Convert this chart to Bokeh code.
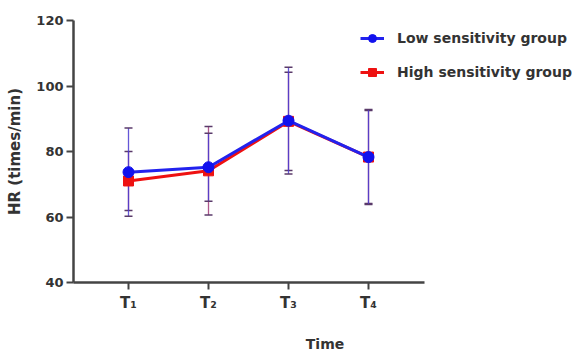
from bokeh.plotting import figure
from bokeh.models import Range1d, FixedTicker, Whisker, TeeHead, ColumnDataSource, Legend, LegendItem
from bokeh.embed import file_html
from bokeh.resources import INLINE

x_pos = [1, 2, 3, 4]
time_labels = ["T\u2081", "T\u2082", "T\u2083", "T\u2084"]
low_mean = [73.7, 75.2, 89.4, 78.3]
low_sd = [13.5, 10.4, 16.3, 14.5]
high_mean = [71.0, 74.1, 89.2, 78.3]
high_sd = [9.0, 13.5, 15.0, 14.2]
y_ticks = [40, 60, 80, 100, 120]

FONT = "DejaVu Sans"
AX = "#444444"

# frame spans the full right side (so the legend is not clipped); the x axis line is bounded
p = figure(width=576, height=354, output_backend="svg", toolbar_location=None,
           x_range=Range1d(0.3125, 0.3125 + 503 / 80), y_range=Range1d(40, 120),
           min_border_left=73, min_border_right=0, min_border_top=20, min_border_bottom=72)
p.outline_line_color = None
p.grid.visible = False
p.background_fill_color = "white"

for ax in (p.xaxis, p.yaxis):
    ax.axis_line_color = AX
    ax.axis_line_width = 2.5
    ax.major_tick_line_color = AX
    ax.major_tick_line_width = 2
    ax.major_tick_in = 0
    ax.minor_tick_line_color = None
    ax.major_label_text_font = FONT
    ax.major_label_text_font_style = "bold"
    ax.major_label_text_color = "#333333"
    ax.major_label_text_font_size = "13px"
    ax.axis_label_text_font = FONT
    ax.axis_label_text_font_style = "bold"
    ax.axis_label_text_color = "#333333"

p.yaxis.ticker = FixedTicker(ticks=y_ticks)
p.yaxis.major_tick_out = 7
p.yaxis.major_label_standoff = 3
p.yaxis.axis_label = "HR (times/min)"
p.yaxis.axis_label_text_font_size = "15px"
p.yaxis.axis_label_standoff = 9

p.xaxis.bounds = (0.3125, 4.7)
p.xaxis.ticker = FixedTicker(ticks=x_pos)
p.xaxis.major_label_overrides = {x: t for x, t in zip(x_pos, time_labels)}
p.xaxis.major_tick_out = 7
p.xaxis.major_label_standoff = 4
p.xaxis.major_label_text_font_size = "15px"
p.xaxis.axis_label = "Time"
p.xaxis.axis_label_text_font_size = "14px"
p.xaxis.axis_label_standoff = 21

src_low = ColumnDataSource(dict(x=x_pos, y=low_mean,
                                up=[m + s for m, s in zip(low_mean, low_sd)],
                                lo=[m - s for m, s in zip(low_mean, low_sd)]))
src_high = ColumnDataSource(dict(x=x_pos, y=high_mean,
                                 up=[m + s for m, s in zip(high_mean, high_sd)],
                                 lo=[m - s for m, s in zip(high_mean, high_sd)]))

for src, col in ((src_high, "#a03a78"), (src_low, "#4a3ad0")):
    w = Whisker(base="x", upper="up", lower="lo", source=src, dimension="height",
                line_color=col, line_width=1.3, line_alpha=0.85, level="underlay",
                upper_head=TeeHead(size=8, line_color="#5a3a6a", line_width=1.5),
                lower_head=TeeHead(size=8, line_color="#5a3a6a", line_width=1.5))
    p.add_layout(w)

hl = p.line("x", "y", source=src_high, line_color="#ee1111", line_width=3)
hm = p.scatter("x", "y", source=src_high, marker="square", size=10, fill_color="#ee1111", line_color="#ee1111")
ll = p.line("x", "y", source=src_low, line_color="#2222ee", line_width=3)
lm = p.scatter("x", "y", source=src_low, marker="circle", size=11, fill_color="#1111ee", line_color="#1111ee")

legend = Legend(items=[LegendItem(label="Low sensitivity group", renderers=[ll, lm]),
                       LegendItem(label="High sensitivity group", renderers=[hl, hm])],
                location=(287, 200))
legend.border_line_color = None
legend.background_fill_alpha = 0
legend.padding = 0
legend.margin = 0
legend.spacing = 14
legend.glyph_width = 24
legend.glyph_height = 20
legend.label_height = 20
legend.label_standoff = 13
legend.label_text_font = FONT
legend.label_text_font_style = "bold"
legend.label_text_font_size = "14px"
legend.label_text_color = "#333333"
p.add_layout(legend, "center")

open("out.html", "w").write(file_html(p, INLINE))
